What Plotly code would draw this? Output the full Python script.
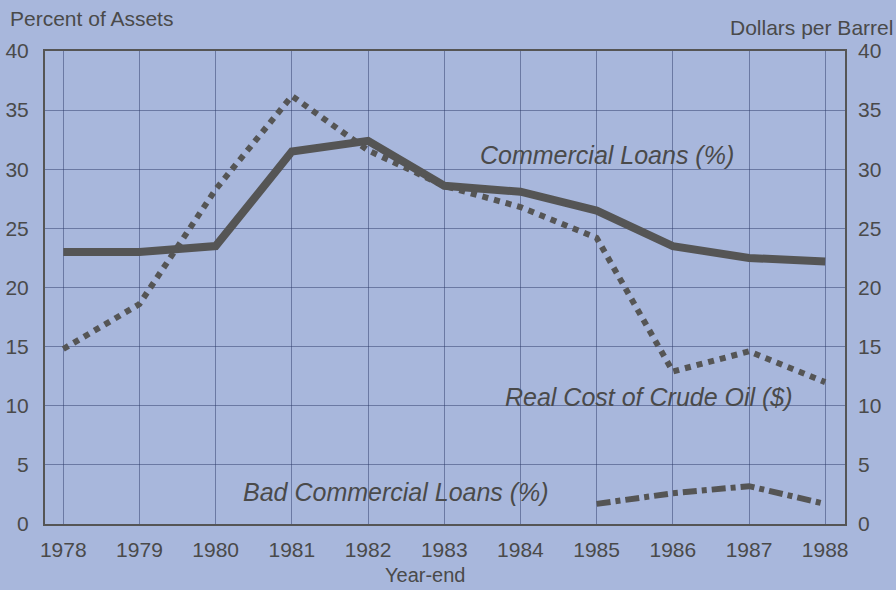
import plotly.graph_objects as go

# data
years = [1978, 1979, 1980, 1981, 1982, 1983, 1984, 1985, 1986, 1987, 1988]
commercial_loans = [23.0, 23.0, 23.5, 31.5, 32.4, 28.6, 28.1, 26.5, 23.5, 22.5, 22.2]
crude_oil = [14.8, 18.6, 28.3, 36.2, 31.6, 28.6, 26.8, 24.2, 12.9, 14.6, 12.0]
bad_years = [1985, 1986, 1987, 1988]
bad_loans = [1.7, 2.6, 3.2, 1.7]

y_ticks = [0, 5, 10, 15, 20, 25, 30, 35, 40]

bg = '#a8b7dc'
ink = '#4a4a4a'
line_col = '#555555'
grid_col = 'rgba(45,60,105,0.5)'
font = 'Liberation Sans, Arial, sans-serif'

# plot area in pixels (left, right, top, bottom)
L, R, T, B = 45, 845, 51, 524


def px(x):
    return (x - L) / (R - L)


def py(y):
    return (B - y) / (B - T)


fig = go.Figure()

# Commercial Loans (%) - thick solid
fig.add_trace(go.Scatter(
    x=years, y=commercial_loans, mode='lines',
    line=dict(color=line_col, width=8),
    yaxis='y', showlegend=False
))

# Real Cost of Crude Oil ($) - dotted, right axis
fig.add_trace(go.Scatter(
    x=years, y=crude_oil, mode='lines',
    line=dict(color=line_col, width=6, dash='6px,6px'),
    yaxis='y2', showlegend=False
))

# Bad Commercial Loans (%) - dash-dot
fig.add_trace(go.Scatter(
    x=bad_years, y=bad_loans, mode='lines',
    line=dict(color=line_col, width=6, dash='14px,5px,5px,5px'),
    yaxis='y', showlegend=False
))

label_font = dict(family=font, size=25, color=ink)
fig.add_annotation(x=1985.13, y=31.2, xref='x', yref='y', text='<i>Commercial Loans (%)</i>',
                   showarrow=False, font=label_font)
fig.add_annotation(x=1985.69, y=10.7, xref='x', yref='y', text='<i>Real Cost of Crude Oil ($)</i>',
                   showarrow=False, font=label_font)
fig.add_annotation(x=1982.37, y=2.7, xref='x', yref='y', text='<i>Bad Commercial Loans (%)</i>',
                   showarrow=False, font=label_font)

title_font = dict(family=font, size=21, color=ink)
fig.add_annotation(x=px(8), y=py(18), xref='paper', yref='paper', xanchor='left',
                   yanchor='middle', text='Percent of Assets', showarrow=False, font=title_font)
fig.add_annotation(x=px(895), y=py(27), xref='paper', yref='paper', xanchor='right',
                   yanchor='middle', text='Dollars per Barrel', showarrow=False, font=title_font)
fig.add_annotation(x=px(425), y=py(575), xref='paper', yref='paper', xanchor='center',
                   yanchor='middle', text='Year-end', showarrow=False,
                   font=dict(family=font, size=20, color=ink))

fig.update_layout(
    width=896, height=590,
    margin=dict(l=L, r=896 - R, t=T, b=590 - B),
    paper_bgcolor=bg, plot_bgcolor=bg,
    xaxis=dict(
        range=[1977.76, 1988.26], tickvals=years, ticktext=[str(y) for y in years],
        showgrid=True, gridcolor=grid_col, gridwidth=1, zeroline=False,
        showline=True, linecolor=line_col, linewidth=2, mirror=True, automargin=False,
        tickfont=dict(family=font, size=21, color=ink), ticklabelstandoff=6
    ),
    yaxis=dict(
        range=[0, 40], tickvals=y_ticks,
        showgrid=True, gridcolor=grid_col, gridwidth=1, zeroline=False,
        showline=True, linecolor=line_col, linewidth=2, mirror=True, automargin=False,
        tickfont=dict(family=font, size=21, color=ink), ticklabelstandoff=10
    ),
    yaxis2=dict(
        range=[0, 40], tickvals=y_ticks, overlaying='y', side='right',
        showgrid=False, zeroline=False, showline=False, automargin=False,
        tickfont=dict(family=font, size=21, color=ink), ticklabelstandoff=12
    ),
)

fig.write_html("out.html", config={'displayModeBar': False},
               post_script="document.body.style.margin='0';document.body.style.overflow='hidden';")
